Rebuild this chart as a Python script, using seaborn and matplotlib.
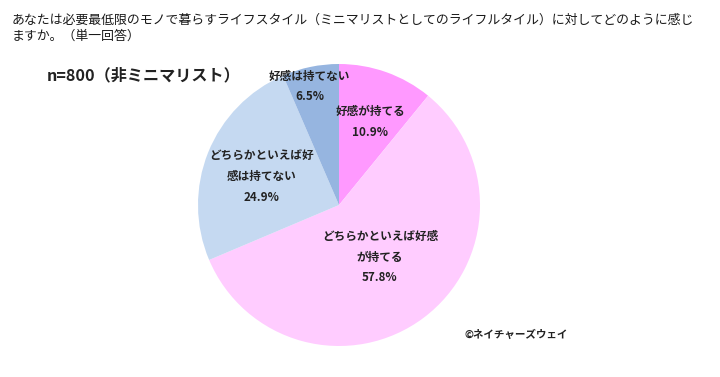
import matplotlib
matplotlib.use("Agg")
import matplotlib.pyplot as plt
import seaborn as sns

# Data
categories = ["好感が持てる", "どちらかといえば好感\nが持てる", "どちらかといえば好\n感は持てない", "好感は持てない"]
shares = [10.9, 57.8, 24.9, 6.5]
slice_colors = ["#FF99FF", "#FFCCFF", "#C5D9F1", "#96B5E0"]

title = "あなたは必要最低限のモノで暮らすライフスタイル（ミニマリストとしてのライフルタイル）に対してどのように感じ\nますか。（単一回答）"
subtitle = "n=800（非ミニマリスト）"
credit = "©ネイチャーズウェイ"

sns.set_theme(style="white")
plt.rcParams['font.family'] = ['Noto Sans CJK JP', 'DejaVu Sans']

fig = plt.figure(figsize=(7.2, 3.77), dpi=100)
# pie centred at (339, 205) px with radius 141 px
ax = fig.add_axes([(339 - 141) / 720, (377 - 205 - 141) / 377, 282 / 720, 282 / 377])

wedges, _ = ax.pie(shares, colors=slice_colors, startangle=90, counterclock=False,
                   wedgeprops=dict(linewidth=0))
ax.set_aspect("equal")
ax.set_xlim(-1, 1)
ax.set_ylim(-1, 1)

# label placement inside each wedge (in pie radius units)
label_pos = [(0.22, 0.59), (0.29, -0.37), (-0.55, 0.20), (-0.21, 0.84)]
for cat, val, (lx, ly) in zip(categories, shares, label_pos):
    ax.text(lx, ly, f"{cat}\n{val:.1f}%", ha="center", va="center",
            fontsize=8.4, fontweight="bold", color="#222222", linespacing=1.75)

fig.text(12 / 720, 1 - 14 / 377, title, ha="left", va="top", fontsize=9.3,
         color="#1a1a1a", linespacing=1.25)
fig.text(47 / 720, 1 - 75 / 377, subtitle, ha="left", va="center", fontsize=11.6,
         fontweight="bold", color="#222222")
fig.text(464 / 720, 1 - 335 / 377, credit, ha="left", va="center", fontsize=7.6,
         fontweight="bold", color="#222222")

fig.savefig("out.png", dpi=100)
